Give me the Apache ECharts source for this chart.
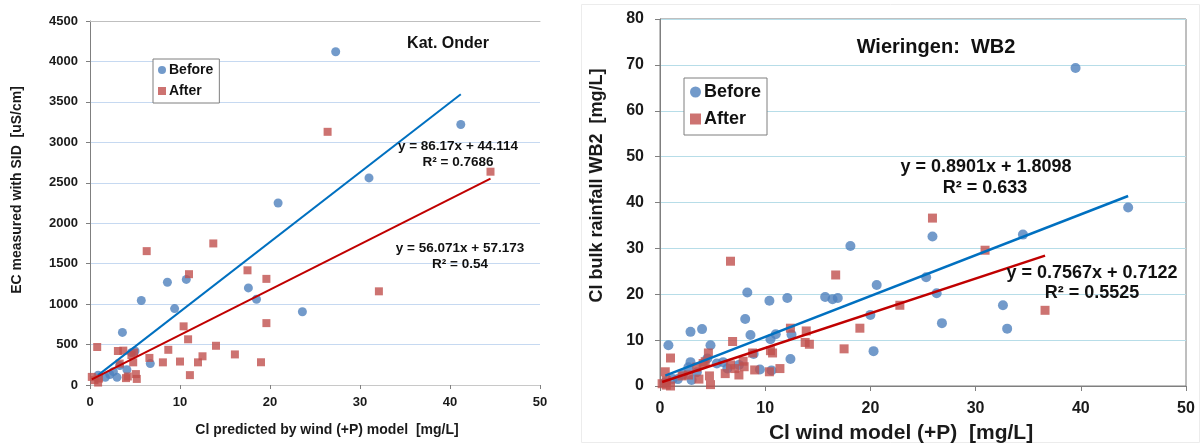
<!DOCTYPE html>
<html>
<head>
<meta charset="utf-8">
<script src="https://cdn.jsdelivr.net/npm/echarts@6/dist/echarts.min.js"></script>
<style>
  html, body { margin: 0; padding: 0; background: #ffffff; }
  #chart { width: 1201px; height: 444px; }
</style>
</head>
<body>
<div id="chart"></div>
<script>
// ---- Kat. Onder: EC measured with SID vs. Cl predicted by wind (+P) model ----
const katBefore = [
  [0.9, 120], [1.7, 95], [2.2, 130], [2.6, 165], [3.0, 95], [3.3, 240], [3.6, 650],
  [4.1, 190], [4.6, 400], [5.0, 420], [5.7, 1045], [6.7, 265], [8.6, 1270], [9.4, 945],
  [10.7, 1305], [17.6, 1200], [18.5, 1060], [20.9, 2250], [23.6, 905], [27.3, 4120],
  [31.0, 2560], [41.2, 3220]
];
const katAfter = [
  [0.2, 100], [0.5, 60], [0.8, 470], [0.9, 30], [1.0, 80], [3.1, 420], [3.3, 265],
  [3.7, 425], [4.0, 85], [4.2, 105], [4.6, 370], [4.8, 280], [4.9, 400], [5.1, 135],
  [5.2, 75], [6.3, 1655], [6.6, 335], [8.1, 280], [8.7, 435], [10.0, 290], [10.4, 725],
  [10.9, 565], [11.0, 1370], [11.1, 122], [12.0, 280], [12.5, 355], [13.7, 1750],
  [14.0, 485], [16.1, 378], [17.5, 1418], [19.0, 281], [19.6, 1312], [19.6, 765],
  [26.4, 3130], [32.1, 1158], [44.5, 2637]
];
// slope, intercept, R²
const katBeforeFit = [86.17, 44.114, 0.7686];
const katAfterFit = [56.071, 57.173, 0.54];

// ---- Wieringen WB2: Cl bulk rainfall vs. Cl wind model (+P) ----
const wbBefore = [
  [0.5, 0.8], [0.8, 8.9], [1.2, 1.5], [1.7, 1.5], [2.2, 2.5], [2.7, 4.1], [2.9, 5.2],
  [2.9, 11.8], [3.0, 1.3], [3.5, 3.0], [4.0, 12.4], [4.5, 6.0], [4.8, 8.9], [5.4, 4.9],
  [6.0, 5.2], [6.4, 3.8], [7.5, 4.6], [8.1, 14.6], [8.3, 20.4], [8.6, 11.1], [8.9, 7.0],
  [9.5, 3.6], [10.4, 18.6], [10.5, 10.2], [10.6, 3.4], [11.0, 11.3], [12.1, 19.2],
  [12.4, 5.9], [12.5, 11.2], [15.7, 19.4], [16.4, 18.9], [16.9, 19.2], [18.1, 30.5],
  [20.0, 15.5], [20.3, 7.6], [20.6, 22.0], [25.3, 23.7], [25.9, 32.6], [26.3, 20.2],
  [26.8, 13.7], [32.6, 17.6], [33.0, 12.5], [34.5, 33.0], [39.5, 69.3], [44.5, 38.9]
];
const wbAfter = [
  [0.2, 0.5], [0.5, 3.1], [0.6, 0.2], [0.6, 1.2], [1.0, 6.1], [1.0, 0.0], [2.1, 2.2],
  [2.7, 2.4], [3.5, 4.1], [3.7, 1.5], [4.1, 4.9], [4.3, 5.3], [4.6, 7.2], [4.7, 2.2],
  [4.8, 0.3], [6.2, 2.7], [6.7, 27.2], [6.7, 4.6], [6.9, 9.7], [7.1, 3.8], [7.5, 2.4],
  [7.9, 5.4], [8.0, 4.2], [8.8, 7.2], [9.0, 3.5], [10.4, 3.1], [10.5, 7.7], [10.7, 7.2],
  [11.4, 3.8], [12.4, 12.6], [13.8, 9.5], [13.9, 12.0], [14.2, 9.1], [16.7, 24.2],
  [17.5, 8.1], [19.0, 12.6], [22.8, 17.6], [25.9, 36.6], [30.9, 29.6], [36.6, 16.5]
];
const wbBeforeFit = [0.8901, 1.8098, 0.633];
const wbAfterFit = [0.7567, 0.7122, 0.5525];

const seriesNames = ['Before', 'After'];
const titles = ['Kat. Onder', 'Wieringen:  WB2'];
const xNames = ['Cl predicted by wind (+P) model  [mg/L]', 'Cl wind model (+P)  [mg/L]'];
const yNames = ['EC measured with SID  [uS/cm]', 'Cl bulk rainfall WB2  [mg/L]'];

const FONT = '"Liberation Sans", Arial, Helvetica, sans-serif';
const BLUE = '#4f81bd', RED = '#c0504d';
const BLUE_FIT = '#0070c0', RED_FIT = '#c00000';

// linear trend line spanning the x-range of a series
function fitLine(points, fit) {
  const xs = points.map(p => p[0]);
  const x0 = Math.min(...xs), x1 = Math.max(...xs);
  return [[x0, fit[0] * x0 + fit[1]], [x1, fit[0] * x1 + fit[1]]];
}
function eqText(fit) { return 'y = ' + fit[0] + 'x + ' + fit[1]; }
function r2Text(fit) { return 'R\u00b2 = ' + fit[2]; }
const plainNumber = v => String(v);

function boldText(size, color) {
  return { fontFamily: FONT, fontWeight: 'bold', fontSize: size, color: color || '#1a1a1a' };
}

function label(x, y, text, size) {
  return {
    type: 'text', x: x, y: y, z: 20,
    style: { text: text, font: 'bold ' + size + 'px ' + FONT, fill: '#111',
             align: 'center', verticalAlign: 'middle' }
  };
}

const chart = echarts.init(document.getElementById('chart'), null, { renderer: 'canvas' });

const option = {
  animation: false,
  backgroundColor: '#ffffff',
  grid: [
    { left: 90, top: 21, width: 450, height: 364, show: false,
      containLabel: false, outerBoundsMode: 'none' },
    { left: 660, top: 19, width: 526, height: 367, show: true,
      containLabel: false, outerBoundsMode: 'none',
      borderColor: '#7f7f7f', borderWidth: 1, backgroundColor: 'transparent' }
  ],
  xAxis: [
    {
      gridIndex: 0, type: 'value', min: 0, max: 50, interval: 10,
      axisLine: { show: true, onZero: false, lineStyle: { color: '#c8c8c8', width: 1 } },
      axisTick: { show: true, length: 4, lineStyle: { color: '#808080' } },
      splitLine: { show: false },
      axisLabel: Object.assign({ margin: 11, formatter: plainNumber }, boldText(13)),
      name: xNames[0], nameLocation: 'middle', nameGap: 38,
      nameTextStyle: Object.assign({ padding: [0, 0, 0, 24] }, boldText(14))
    },
    {
      gridIndex: 1, type: 'value', min: 0, max: 50, interval: 10,
      axisLine: { show: true, onZero: false, lineStyle: { color: '#7f7f7f', width: 1 } },
      axisTick: { show: true, length: 5, lineStyle: { color: '#7f7f7f' } },
      splitLine: { show: false },
      axisLabel: Object.assign({ margin: 15, formatter: plainNumber }, boldText(16)),
      name: xNames[1], nameLocation: 'middle', nameGap: 37,
      nameTextStyle: Object.assign({ padding: [0, 44, 0, 0] }, boldText(21))
    },
    {
      gridIndex: 0, type: 'value', min: 0, max: 50, position: 'top',
      axisLine: { show: true, onZero: false, lineStyle: { color: '#bfbfbf', width: 1 } },
      axisTick: { show: false }, axisLabel: { show: false }, splitLine: { show: false }
    }
  ],
  yAxis: [
    {
      gridIndex: 0, type: 'value', min: 0, max: 4500, interval: 500,
      axisLine: { show: true, lineStyle: { color: '#7f7f7f', width: 1 } },
      axisTick: { show: true, length: 4, lineStyle: { color: '#7f7f7f' } },
      splitLine: { show: true, lineStyle: { color: '#c6d9f1', width: 1 } },
      axisLabel: Object.assign({ margin: 12, formatter: plainNumber }, boldText(13)),
      name: yNames[0], nameLocation: 'middle', nameGap: 66, nameRotate: 90,
      nameTextStyle: Object.assign({ padding: [0, 0, 0, 26] }, boldText(14))
    },
    {
      gridIndex: 1, type: 'value', min: 0, max: 80, interval: 10,
      axisLine: { show: true, lineStyle: { color: '#7f7f7f', width: 1 } },
      axisTick: { show: true, length: 5, lineStyle: { color: '#7f7f7f' } },
      splitLine: { show: true, lineStyle: { color: '#b7dde8', width: 1 } },
      axisLabel: Object.assign({ margin: 16, formatter: plainNumber }, boldText(16)),
      name: yNames[1], nameLocation: 'middle', nameGap: 54, nameRotate: 90,
      nameTextStyle: Object.assign({ padding: [0, 0, 0, 34] }, boldText(18))
    }
  ],
  legend: [
    {
      left: 153, top: 59, orient: 'vertical',
      data: [{ name: seriesNames[0], icon: 'circle' }, { name: seriesNames[1], icon: 'rect' }],
      itemWidth: 8, itemHeight: 8, itemGap: 5,
      padding: [3, 6, 4, 5],
      backgroundColor: '#ffffff', borderColor: '#7f7f7f', borderWidth: 1, borderRadius: 0,
      textStyle: Object.assign({ lineHeight: 16, padding: [0, 0, 0, -2] }, boldText(14, '#111')),
      selectedMode: false
    },
    {
      left: 684, top: 78, orient: 'vertical',
      data: [{ name: seriesNames[0], icon: 'circle' }, { name: seriesNames[1], icon: 'rect' }],
      itemWidth: 11, itemHeight: 11, itemGap: 7,
      padding: [4, 6, 6, 6],
      backgroundColor: '#ffffff', borderColor: '#7f7f7f', borderWidth: 1, borderRadius: 0,
      textStyle: Object.assign({ lineHeight: 20, padding: [0, 0, 0, -2] }, boldText(18, '#111')),
      selectedMode: false
    }
  ],
  series: [
    { type: 'scatter', name: seriesNames[0], xAxisIndex: 0, yAxisIndex: 0, data: katBefore,
      symbol: 'circle', symbolSize: 9, itemStyle: { color: BLUE }, z: 2 },
    { type: 'scatter', name: seriesNames[1], xAxisIndex: 0, yAxisIndex: 0, data: katAfter,
      symbol: 'rect', symbolSize: 8, itemStyle: { color: RED }, z: 3 },
    { type: 'line', name: 'Before fit', xAxisIndex: 0, yAxisIndex: 0,
      data: fitLine(katBefore, katBeforeFit), symbol: 'none', silent: true,
      lineStyle: { color: BLUE_FIT, width: 2 }, z: 4 },
    { type: 'line', name: 'After fit', xAxisIndex: 0, yAxisIndex: 0,
      data: fitLine(katAfter, katAfterFit), symbol: 'none', silent: true,
      lineStyle: { color: RED_FIT, width: 2 }, z: 4 },

    { type: 'scatter', name: seriesNames[0], xAxisIndex: 1, yAxisIndex: 1, data: wbBefore,
      symbol: 'circle', symbolSize: 10, itemStyle: { color: BLUE }, z: 2 },
    { type: 'scatter', name: seriesNames[1], xAxisIndex: 1, yAxisIndex: 1, data: wbAfter,
      symbol: 'rect', symbolSize: 9, itemStyle: { color: RED }, z: 3 },
    { type: 'line', name: 'Before fit', xAxisIndex: 1, yAxisIndex: 1,
      data: fitLine(wbBefore, wbBeforeFit), symbol: 'none', silent: true,
      lineStyle: { color: BLUE_FIT, width: 2.5 }, z: 4 },
    { type: 'line', name: 'After fit', xAxisIndex: 1, yAxisIndex: 1,
      data: fitLine(wbAfter, wbAfterFit), symbol: 'none', silent: true,
      lineStyle: { color: RED_FIT, width: 2.5 }, z: 4 }
  ],
  graphic: [
    // frame around the Wieringen panel
    { type: 'rect', z: 0, silent: true,
      shape: { x: 581.5, y: 4.5, width: 618, height: 438 },
      style: { fill: 'none', stroke: '#ececec', lineWidth: 1 } },
    label(448, 44, titles[0], 16),
    label(936, 47, titles[1], 20),
    label(458, 146, eqText(katBeforeFit), 13.5),
    label(458, 162, r2Text(katBeforeFit), 13.5),
    label(460, 248, eqText(katAfterFit), 13.5),
    label(460, 264, r2Text(katAfterFit), 13.5),
    label(986, 167, eqText(wbBeforeFit), 18),
    label(985, 188, r2Text(wbBeforeFit), 18),
    label(1092, 273, eqText(wbAfterFit), 18),
    label(1092, 293, r2Text(wbAfterFit), 18)
  ]
};

chart.setOption(option);
</script>
</body>
</html>
